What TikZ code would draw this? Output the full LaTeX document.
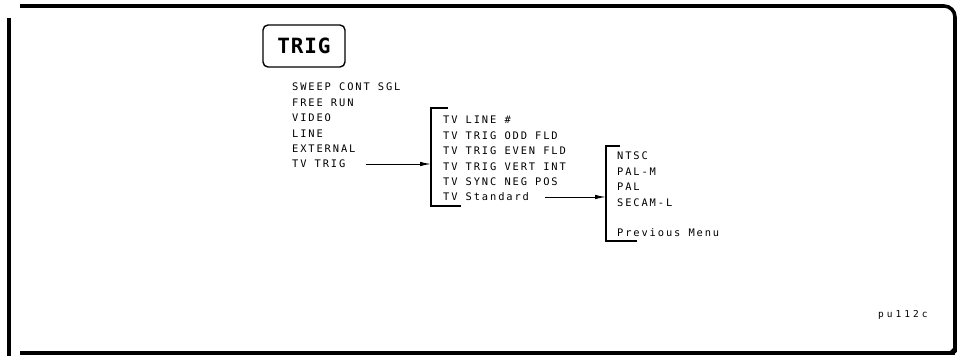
\documentclass[tikz,border=0pt]{standalone}
\usepackage{fontspec}
\setmainfont{Liberation Sans}
\newfontfamily\plotfont[LetterSpace=18]{DejaVu Sans Mono}
\newfontfamily\keyfont[LetterSpace=4]{DejaVu Sans Mono Bold}
\newfontfamily\tagfont[LetterSpace=32]{DejaVu Sans Mono}
\usetikzlibrary{arrows.meta,positioning}

\begin{document}
\begin{tikzpicture}[
  x=1pt, y=-1pt,
  node distance=7.4pt,
  key/.style={draw, line width=1.4pt, rounded corners=5pt, minimum width=82pt, minimum height=42pt, inner sep=0pt, font=\keyfont\fontsize{21}{24}\selectfont},
  item/.style={inner sep=0pt, text height=7.6pt, text depth=0pt, anchor=west, font=\plotfont\fontsize{10.4}{12}\selectfont},
  edge/.style={-{Latex[length=11pt,width=4.5pt]}, line width=1pt},
  bracket/.style={line width=2.6pt},
  frame/.style={line width=3.6pt}
]
\useasboundingbox (0,0) rectangle (963,356);

% outer frame
\draw[frame, rounded corners=11pt] (20,6) -- (955,6) -- (955,352);
\draw[frame] (20,353) -- (955,353);
\draw[frame] (9,18) -- (9,356);
\fill (948,353) -- (956,345) -- (956,353) -- cycle;

% front panel key
\node[key] (trig) at (304,46) {TRIG};

% first menu
\node[item] (sweep) at (292,87) {SWEEP CONT SGL};
\node[item, below=of sweep.south west, anchor=north west] (freerun) {FREE RUN};
\node[item, below=of freerun.south west, anchor=north west] (video) {VIDEO};
\node[item, below=of video.south west, anchor=north west] (line) {LINE};
\node[item, below=of line.south west, anchor=north west] (external) {EXTERNAL};
\node[item, below=of external.south west, anchor=north west] (tvtrig) {TV TRIG};

% TV TRIG menu
\node[item] (tvline) at (443,120) {TV LINE \#};
\node[item, below=of tvline.south west, anchor=north west] (oddfld) {TV TRIG ODD FLD};
\node[item, below=of oddfld.south west, anchor=north west] (evenfld) {TV TRIG EVEN FLD};
\node[item, below=of evenfld.south west, anchor=north west] (vertint) {TV TRIG VERT INT};
\node[item, below=of vertint.south west, anchor=north west] (syncneg) {TV SYNC NEG POS};
\node[item, below=of syncneg.south west, anchor=north west] (standard) {TV Standard};

% TV Standard menu
\node[item] (ntsc) at (617,156) {NTSC};
\node[item, below=of ntsc.south west, anchor=north west] (palm) {PAL-M};
\node[item, below=of palm.south west, anchor=north west] (pal) {PAL};
\node[item, below=of pal.south west, anchor=north west] (secam) {SECAM-L};
\node[item, below=22pt of secam.south west, anchor=north west] (prevmenu) {Previous Menu};

% menu brackets
\coordinate (brka) at (431,108);
\coordinate (brkaend) at (431,206);
\draw[bracket] ([xshift=17pt]brka) -- (brka) -- (brkaend) -- ++(30,0);
\coordinate (brkb) at (606,146);
\coordinate (brkbend) at (606,241);
\draw[bracket] ([xshift=14pt]brkb) -- (brkb) -- (brkbend) -- ++(31,0);

\draw[edge] ([xshift=20pt]tvtrig.east) -- (brka |- tvtrig.east);
\draw[edge] ([xshift=16pt]standard.east) -- (brkb |- standard.east);

\node[item, font=\tagfont\fontsize{9.5}{11}\selectfont] (figid) at (878,314) {pu112c};
\end{tikzpicture}
\end{document}
